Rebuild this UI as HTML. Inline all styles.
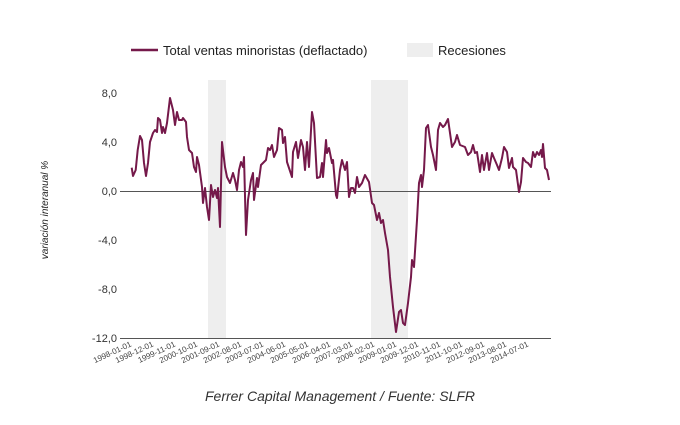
<!DOCTYPE html>
<html><head><meta charset="utf-8"><style>body{margin:0;background:#fff}</style></head><body>
<svg width="680" height="420" xmlns="http://www.w3.org/2000/svg" font-family="Liberation Sans, Arial, sans-serif">
<rect width="680" height="420" fill="#fff"/>
<line x1="131" y1="50" x2="158" y2="50" stroke="#75194a" stroke-width="2.5"/>
<text x="163" y="55" font-size="13" fill="#222">Total ventas minoristas (deflactado)</text>
<rect x="407" y="43" width="26" height="14" fill="#eeeeee"/>
<text x="438" y="55" font-size="13" fill="#222">Recesiones</text>
<rect x="208" y="80" width="18" height="258" fill="#eeeeee"/>
<rect x="371" y="80" width="37" height="258" fill="#eeeeee"/>
<g font-size="11" fill="#333" text-anchor="end">
<text x="117" y="97">8,0</text><text x="117" y="146">4,0</text><text x="117" y="195">0,0</text>
<text x="117" y="244">-4,0</text><text x="117" y="293">-8,0</text><text x="117" y="342">-12,0</text>
</g>
<line x1="120" y1="191.5" x2="551" y2="191.5" stroke="#555" stroke-width="1"/>
<line x1="120" y1="338.5" x2="551" y2="338.5" stroke="#555" stroke-width="1"/>
<text transform="translate(48,210) rotate(-90)" font-size="10" font-style="italic" fill="#222" text-anchor="middle">variación interanual %</text>
<polyline fill="none" stroke="#75194a" stroke-width="2" stroke-linejoin="round" points="131.7,167.7 133,176 135.7,170 137.7,150 140,136 142,140 144,163 146,176 148,163 150,142 153,133 155,130 157,132 158,118 160,120 162,133 163,127 165,133 167,123 170,98 173,110 175,125 177,112 179,120 182,120 183,118 186,122 187,137 189,150 192,153 194,167 196,172 197,157 199,165 202,187 203,203 205,188 207,207 209,220 211,185 213,197 215,190 217,198 218,188 220,227 222,142 225,167 227,177 230,183 233,173 235,180 237,190 239,170 241,162 243,167 244,157 246,235 248,200 251,180 253,173 254,200 257,178 258,187 261,165 263,163 266,160 268,148 270,150 272,145 274,157 277,150 279,128 282,130 283,143 285,137 287,162 289,168 292,177 293,152 296,142 298,158 301,140 303,147 305,170 307,142 309,167 312,112 314,123 317,178 320,177 322,163 323,177 326,140 327,153 329,148 332,163 333,160 336,195 337,198 340,170 342,160 345,170 347,162 349,197 351,188 353,188 355,193 357,177 359,187 362,183 365,175 369,182 372,203 374,205 377,220 379,213 381,223 383,220 385,233 388,250 390,277 393,307 396,332 399,312 401,310 403,323 405,325 408,303 411,277 412,260 414,267 417,220 419,183 421,175 422,187 424,170 426,128 428,125 431,147 433,155 436,170 438,130 440,123 443,127 445,125 448,119 452,147 455,142 457,135 460,145 465,147 468,155 471,152 473,145 475,153 477,152 480,172 482,155 484,170 487,153 489,170 492,153 494,158 497,165 499,170 502,158 504,147 507,152 509,168 512,158 513,167 516,170 519,192 521,182 523,158 526,162 528,163 531,167 533,152 535,157 537,152 539,155 541,150 542,157 543,144 545,168 547,170 549,180"/>
<g font-size="8" fill="#444" text-anchor="end">
<text transform="translate(132,346) rotate(-25)">1998-01-01</text>
<text transform="translate(154,346) rotate(-25)">1998-12-01</text>
<text transform="translate(176,346) rotate(-25)">1999-11-01</text>
<text transform="translate(198,346) rotate(-25)">2000-10-01</text>
<text transform="translate(220,346) rotate(-25)">2001-09-01</text>
<text transform="translate(242,346) rotate(-25)">2002-08-01</text>
<text transform="translate(264,346) rotate(-25)">2003-07-01</text>
<text transform="translate(286,346) rotate(-25)">2004-06-01</text>
<text transform="translate(309,346) rotate(-25)">2005-05-01</text>
<text transform="translate(331,346) rotate(-25)">2006-04-01</text>
<text transform="translate(353,346) rotate(-25)">2007-03-01</text>
<text transform="translate(375,346) rotate(-25)">2008-02-01</text>
<text transform="translate(397,346) rotate(-25)">2009-01-01</text>
<text transform="translate(419,346) rotate(-25)">2009-12-01</text>
<text transform="translate(441,346) rotate(-25)">2010-11-01</text>
<text transform="translate(463,346) rotate(-25)">2011-10-01</text>
<text transform="translate(485,346) rotate(-25)">2012-09-01</text>
<text transform="translate(507,346) rotate(-25)">2013-08-01</text>
<text transform="translate(529,346) rotate(-25)">2014-07-01</text>
</g>
<text x="340" y="401" font-size="14" font-style="italic" fill="#333" text-anchor="middle">Ferrer Capital Management / Fuente: SLFR</text>
</svg>
</body></html>
